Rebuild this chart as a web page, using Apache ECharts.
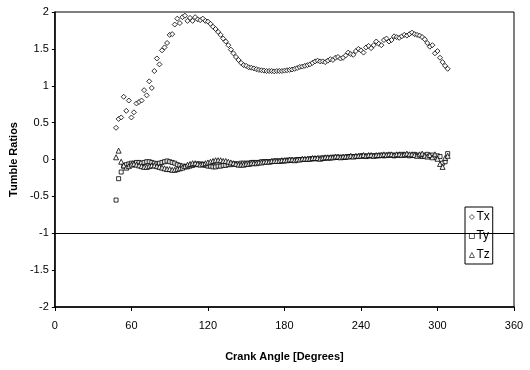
<!DOCTYPE html>
<html><head><meta charset="utf-8">
<script src="https://cdn.jsdelivr.net/npm/echarts@6/dist/echarts.min.js"></script>
<style>html,body{margin:0;padding:0;background:#fff}#c{width:530px;height:370px}</style>
</head><body><div id="c"></div>
<script>
// Crank angles (degrees)
const angles = [];
for (let a = 48; a <= 308; a += 2) angles.push(a);

const tx = [0.43,0.55,0.57,0.85,0.66,0.80,0.57,0.64,0.76,0.78,
0.80,0.94,0.87,1.06,0.97,1.20,1.37,1.29,1.48,1.52,
1.58,1.69,1.70,1.83,1.91,1.85,1.93,1.95,1.88,1.92,
1.88,1.93,1.90,1.89,1.91,1.88,1.87,1.84,1.80,1.77,
1.73,1.69,1.64,1.60,1.55,1.49,1.44,1.39,1.35,1.31,
1.28,1.27,1.25,1.245,1.235,1.225,1.215,1.21,1.205,1.20,
1.20,1.20,1.195,1.20,1.20,1.20,1.205,1.21,1.215,1.22,
1.23,1.24,1.255,1.26,1.27,1.28,1.29,1.31,1.33,1.34,
1.33,1.33,1.32,1.34,1.36,1.35,1.38,1.39,1.37,1.38,
1.41,1.45,1.43,1.42,1.47,1.50,1.48,1.45,1.52,1.54,
1.51,1.55,1.60,1.57,1.55,1.62,1.64,1.60,1.62,1.67,
1.66,1.65,1.67,1.69,1.68,1.70,1.72,1.70,1.69,1.68,
1.66,1.63,1.58,1.53,1.55,1.44,1.47,1.38,1.32,1.27,
1.23];

const ty = [-0.55,-0.26,-0.17,-0.09,-0.07,-0.06,-0.05,-0.05,-0.04,-0.04,
-0.05,-0.04,-0.03,-0.03,-0.04,-0.05,-0.06,-0.05,-0.04,-0.03,
-0.02,-0.03,-0.04,-0.05,-0.07,-0.08,-0.09,-0.10,-0.10,-0.09,
-0.08,-0.07,-0.06,-0.06,-0.07,-0.08,-0.09,-0.09,-0.10,-0.10,
-0.09,-0.09,-0.08,-0.08,-0.07,-0.07,-0.06,-0.06,-0.06,-0.05,
-0.05,-0.05,-0.05,-0.04,-0.04,-0.04,-0.04,-0.03,-0.03,-0.03,
-0.03,-0.03,-0.02,-0.02,-0.02,-0.02,-0.02,-0.01,-0.01,-0.01,
-0.01,0.00,0.00,0.00,0.00,0.00,0.01,0.01,0.01,0.01,
0.02,0.02,0.02,0.02,0.02,0.03,0.03,0.03,0.03,0.03,
0.03,0.04,0.04,0.04,0.04,0.04,0.05,0.05,0.04,0.05,
0.05,0.05,0.05,0.05,0.06,0.05,0.06,0.06,0.06,0.05,
0.06,0.06,0.07,0.06,0.06,0.05,0.06,0.07,0.06,0.05,
0.04,0.06,0.07,0.05,0.06,0.03,0.05,0.04,-0.05,-0.03,
0.08];

const tz = [0.03,0.12,-0.03,-0.08,-0.11,-0.09,-0.07,-0.06,-0.07,-0.08,
-0.09,-0.10,-0.10,-0.09,-0.08,-0.08,-0.09,-0.10,-0.11,-0.12,
-0.13,-0.13,-0.14,-0.14,-0.13,-0.12,-0.11,-0.09,-0.07,-0.06,
-0.05,-0.05,-0.06,-0.07,-0.06,-0.05,-0.04,-0.03,-0.02,-0.01,
-0.01,-0.01,-0.02,-0.02,-0.03,-0.04,-0.05,-0.06,-0.07,-0.07,
-0.07,-0.06,-0.06,-0.05,-0.05,-0.05,-0.04,-0.04,-0.03,-0.03,
-0.03,-0.02,-0.02,-0.02,-0.02,-0.01,-0.01,-0.01,0.00,0.00,
-0.01,0.00,0.00,0.01,0.01,0.01,0.01,0.02,0.02,0.02,
0.01,0.02,0.03,0.03,0.03,0.03,0.04,0.04,0.03,0.04,
0.04,0.04,0.05,0.04,0.05,0.05,0.05,0.06,0.05,0.06,
0.06,0.05,0.06,0.06,0.06,0.07,0.06,0.07,0.07,0.06,
0.07,0.07,0.06,0.07,0.08,0.07,0.07,0.06,0.05,0.07,
0.08,0.05,0.04,0.06,0.03,0.07,0.01,-0.06,-0.10,0.02,
0.05];

const xTicks = [0, 60, 120, 180, 240, 300, 360];
const yTicks = [-2, -1.5, -1, -0.5, 0, 0.5, 1, 1.5, 2];

const pair = arr => angles.map((a, i) => [a, arr[i]]);
const font = '"Liberation Sans", Arial, sans-serif';

const markStyle = {color: '#fff', borderColor: '#000', borderWidth: 1};
const chart = echarts.init(document.getElementById('c'), null, {renderer: 'canvas'});
chart.setOption({
  animation: false,
  backgroundColor: '#fff',
  grid: {left: 52, right: 16, top: 12, bottom: 63, show: true, borderColor: '#000', borderWidth: 1, backgroundColor: 'transparent'},
  xAxis: {
    type: 'value', min: xTicks[0], max: xTicks[xTicks.length - 1], interval: 60,
    name: 'Crank Angle [Degrees]', nameLocation: 'middle', nameGap: 44,
    nameTextStyle: {fontFamily: font, fontWeight: 'bold', fontSize: 11, color: '#000'},
    axisLine: {onZero: false, lineStyle: {color: '#000', width: 1.5}},
    axisTick: {show: true, length: 4, lineStyle: {color: '#000'}},
    axisLabel: {fontFamily: font, fontSize: 11, color: '#000', margin: 13},
    splitLine: {show: false}
  },
  yAxis: {
    type: 'value', min: yTicks[0], max: yTicks[yTicks.length - 1], interval: 0.5,
    name: 'Tumble Ratios', nameLocation: 'middle', nameGap: 34, nameRotate: 90,
    nameTextStyle: {fontFamily: font, fontWeight: 'bold', fontSize: 11, color: '#000'},
    axisLine: {onZero: false, lineStyle: {color: '#000', width: 1.5}},
    axisTick: {show: true, length: 3, lineStyle: {color: '#000'}},
    axisLabel: {fontFamily: font, fontSize: 11, color: '#000', margin: 6},
    splitLine: {show: false}
  },
  legend: {
    orient: 'vertical', left: 465, top: 207, padding: [4, 3, 3, 4],
    itemWidth: 5, itemHeight: 5, itemGap: 7,
    borderColor: '#000', borderWidth: 1, backgroundColor: '#fff',
    itemStyle: {color: '#fff', borderColor: '#000', borderWidth: 0.8},
    textStyle: {fontFamily: font, fontSize: 12, color: '#000', padding: [0, 0, 0, -3]},
    data: [
      {name: 'Tx', icon: 'diamond'},
      {name: 'Ty', icon: 'rect'},
      {name: 'Tz', icon: 'triangle'}
    ]
  },
  series: [
    {name: 'Tx', type: 'scatter', symbol: 'diamond', symbolSize: 5, data: pair(tx), itemStyle: markStyle,
     markLine: {silent: true, symbol: 'none', label: {show: false}, lineStyle: {color: '#000', width: 1, type: 'solid'}, data: [{yAxis: -1}]}},
    {name: 'Ty', type: 'scatter', symbol: 'rect', symbolSize: 4, data: pair(ty), itemStyle: markStyle},
    {name: 'Tz', type: 'scatter', symbol: 'triangle', symbolSize: 5, data: pair(tz), itemStyle: markStyle}
  ]
});
</script></body></html>
